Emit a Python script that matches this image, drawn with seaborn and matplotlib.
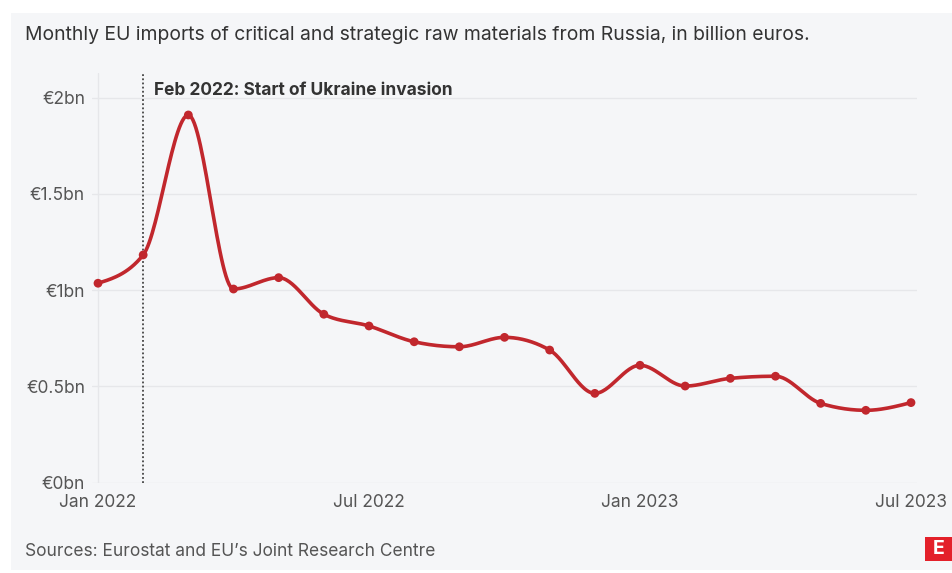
import numpy as np
import pandas as pd
import matplotlib
matplotlib.use("Agg")
import matplotlib.pyplot as plt
from matplotlib.patches import Rectangle
import seaborn as sns

# Monthly EU imports of critical and strategic raw materials from Russia (billion euros)
months = ["Jan 2022", "Feb 2022", "Mar 2022", "Apr 2022", "May 2022", "Jun 2022",
          "Jul 2022", "Aug 2022", "Sep 2022", "Oct 2022", "Nov 2022", "Dec 2022",
          "Jan 2023", "Feb 2023", "Mar 2023", "Apr 2023", "May 2023", "Jun 2023",
          "Jul 2023"]
imports_bn = [1.036, 1.183, 1.91, 1.006, 1.065, 0.875, 0.814, 0.732, 0.706, 0.755,
              0.689, 0.464, 0.61, 0.502, 0.542, 0.553, 0.412, 0.376, 0.416]

x_tick_labels = ["Jan 2022", "Jul 2022", "Jan 2023", "Jul 2023"]
y_ticks = [0, 0.5, 1, 1.5, 2]
y_tick_labels = ["€0bn", "€0.5bn", "€1bn", "€1.5bn", "€2bn"]
event_month = "Feb 2022"
event_label = "Feb 2022: Start of Ukraine invasion"

RED = "#c1272d"
BG = "#f5f6f8"
GRID = "#e6e7ea"
TEXT = "#333333"
TICK = "#555555"


def monotone_curve(x, y, n=30):
    """Monotone cubic (Steffen) curve through the points, as used by d3.curveMonotoneX."""
    x = np.asarray(x, float)
    y = np.asarray(y, float)
    h = np.diff(x)
    s = np.diff(y) / h
    t = np.zeros_like(y)
    for i in range(1, len(x) - 1):
        p = (s[i - 1] * h[i] + s[i] * h[i - 1]) / (h[i - 1] + h[i])
        t[i] = (np.sign(s[i - 1]) + np.sign(s[i])) * min(abs(s[i - 1]), abs(s[i]), 0.5 * abs(p))
    t[0] = (3 * s[0] - t[1]) / 2
    t[-1] = (3 * s[-1] - t[-2]) / 2
    xs, ys = [], []
    for i in range(len(x) - 1):
        u = np.linspace(0, 1, n, endpoint=(i == len(x) - 2))
        h00 = 2 * u**3 - 3 * u**2 + 1
        h10 = u**3 - 2 * u**2 + u
        h01 = -2 * u**3 + 3 * u**2
        h11 = u**3 - u**2
        xs.append(x[i] + u * h[i])
        ys.append(h00 * y[i] + h10 * h[i] * t[i] + h01 * y[i + 1] + h11 * h[i] * t[i + 1])
    return np.concatenate(xs), np.concatenate(ys)


sns.set_theme(style="white")
plt.rcParams["font.family"] = ["Inter", "DejaVu Sans"]

df = pd.DataFrame({"month": months, "value": imports_bn})
df["idx"] = np.arange(len(df))
cx, cy = monotone_curve(df["idx"], df["value"])
curve = pd.DataFrame({"idx": cx, "value": cy})

W, H = 953, 573
fig = plt.figure(figsize=(W / 100, H / 100), dpi=100)
fig.patch.set_facecolor("white")
fig.add_artist(Rectangle((11 / W, 3 / H), 1 - 11 / W, 1 - 16 / H,
                         transform=fig.transFigure, facecolor=BG, edgecolor="none", zorder=0))

left, right = 92 / W, 917 / W
bottom, top = (H - 482.7) / H, (H - 73) / H
ax = fig.add_axes([left, bottom, right - left, top - bottom])
ax.set_facecolor("none")

sns.lineplot(data=curve, x="idx", y="value", ax=ax, color=RED, linewidth=2.6,
             estimator=None, sort=False, zorder=4)
sns.scatterplot(data=df, x="idx", y="value", ax=ax, color=RED, s=40,
                edgecolor="none", zorder=5)

n = len(months)
ax.set_xlim(-0.133, n - 1 + 0.133)
ax.set_ylim(0, 2.128)

ax.set_yticks(y_ticks)
ax.set_yticklabels(y_tick_labels)
xt = [months.index(m) for m in x_tick_labels]
ax.set_xticks(xt)
ax.set_xticklabels(x_tick_labels)

for yv in y_ticks:
    ax.axhline(yv, color=GRID, linewidth=1, zorder=1)
# faint vertical axis line at the first month
ax.axvline(xt[0], color=GRID, linewidth=1, zorder=1)

ax.tick_params(axis="y", length=0, pad=5, labelsize=12.5, labelcolor=TICK)
ax.tick_params(axis="x", length=5, width=1, color=GRID, pad=3, labelsize=12.5,
               labelcolor=TICK)
for sp in ax.spines.values():
    sp.set_visible(False)
ax.set_xlabel("")
ax.set_ylabel("")

ev = months.index(event_month)
ax.axvline(ev, color="#444444", linewidth=1.3, linestyle=(0, (1, 1.3)), zorder=3)
ax.text(ev + 0.25, 2.035, event_label, fontsize=12.5, fontweight="bold",
        color=TEXT, ha="left", va="center")

fig.text(25 / W, 1 - 35 / H, "Monthly EU imports of critical and strategic raw materials from Russia, in billion euros.",
         fontsize=13.9, color=TEXT, ha="left", va="center")
fig.text(25 / W, 1 - 551 / H, "Sources: Eurostat and EU\u2019s Joint Research Centre",
         fontsize=12.5, color=TICK, ha="left", va="center")

# Publisher mark
fig.add_artist(Rectangle((925.5 / W, 1 - 561 / H), 27.5 / W, 24 / H,
                         transform=fig.transFigure, facecolor="#e3202a",
                         edgecolor="none", zorder=2))
fig.text(939 / W, 1 - 549 / H, "E", fontsize=14, fontweight="bold", color="white",
         ha="center", va="center", zorder=3)

fig.savefig("out.png", dpi=100, facecolor="white")
